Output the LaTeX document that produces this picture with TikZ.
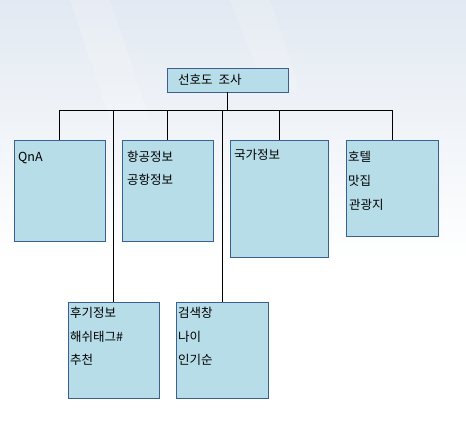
\documentclass[tikz,border=0pt]{standalone}
\usepackage{fontspec}
\newfontfamily\kr{Noto Sans CJK KR}
\definecolor{boxfill}{HTML}{B7DDE8}
\definecolor{boxline}{HTML}{3B5F8F}
\definecolor{bgtop}{HTML}{E2E9F2}
\begin{document}
\begin{tikzpicture}[x=1pt,y=-1pt,
  box/.style={draw=boxline, fill=boxfill, line width=0.9pt, inner sep=0pt},
  lbl/.style={anchor=west, inner sep=0pt, font=\kr\fontsize{12.5}{14}\selectfont},
  conn/.style={draw=black, line width=0.9pt}]
\useasboundingbox (0,0) rectangle (466,444);
\shade[top color=bgtop, bottom color=white, shading angle=0] (0,0) rectangle (466,260);
\fill[white, opacity=0.18] (70,0) -- (110,0) -- (150,120) -- (110,120) -- cycle;
\fill[white, opacity=0.15] (230,0) -- (270,0) -- (300,90) -- (265,90) -- cycle;
\fill[white] (0,260) rectangle (466,444);
% boxes
\node[box, minimum width=121, minimum height=24] (top) at (227.5,80) {};
\node[box, minimum width=91, minimum height=101] (qna) at (59.5,190.5) {};
\node[box, minimum width=91, minimum height=101] (air) at (167.5,190.5) {};
\node[box, minimum width=98, minimum height=117] (nation) at (279,198.5) {};
\node[box, minimum width=92, minimum height=96] (hotel) at (392,188) {};
\node[box, minimum width=91, minimum height=96] (review) at (113.5,350) {};
\node[box, minimum width=92, minimum height=96] (search) at (222,350) {};
% connectors
\foreach \c in {qna,air,nation,hotel,review,search}
  \draw[conn] (top.south) -- ++(0,18) -| (\c.north);
% texts
\node[lbl] (t0) at (178,80) {선호도\hspace{3pt} 조사};
\node[lbl] (q1) at (18,158) {QnA};
\node[lbl] (a1) at (127,157) {항공정보};
\node[lbl] (a2) at (127,180) {공항정보};
\node[lbl] (n1) at (234,155) {국가정보};
\node[lbl] (h1) at (348,157) {호텔};
\node[lbl] (h2) at (348,181) {맛집};
\node[lbl] (h3) at (349,205) {관광지};
\node[lbl] (r1) at (70,313) {후기정보};
\node[lbl] (r2) at (70,337) {해쉬태그\#};
\node[lbl] (r3) at (70,360) {추천};
\node[lbl] (s1) at (178,313) {검색창};
\node[lbl] (s2) at (178,337) {나이};
\node[lbl] (s3) at (178,360) {인기순};
\end{tikzpicture}
\end{document}
